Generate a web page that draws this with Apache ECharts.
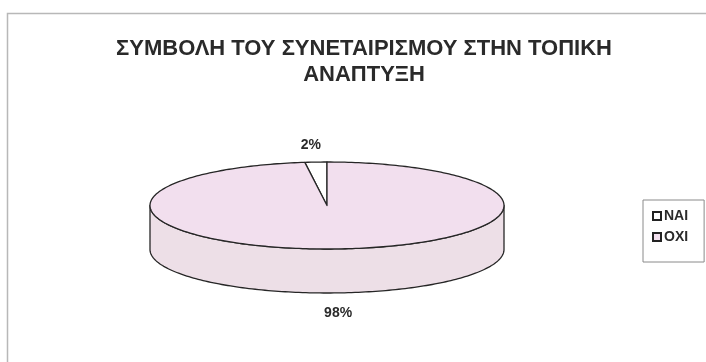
<!DOCTYPE html>
<html>
<head>
<meta charset="utf-8">
<script src="https://cdn.jsdelivr.net/npm/echarts@6/dist/echarts.min.js"></script>
<style>
  html, body { margin: 0; padding: 0; background: #fff; }
  #chart { width: 706px; height: 362px; }
</style>
</head>
<body>
<div id="chart"></div>
<script>
// Answers (percent of respondents)
const categories = ['ΝΑΙ', 'ΟΧΙ'];
const shares = [2, 98];
const topColors = ['#ffffff', '#f2dfee'];
const sideColors = ['#f4f4f4', '#eddfe7'];
const titleText = 'ΣΥΜΒΟΛΗ ΤΟΥ ΣΥΝΕΤΑΙΡΙΣΜΟΥ ΣΤΗΝ ΤΟΠΙΚΗ\nΑΝΑΠΤΥΞΗ';

const FONT = '"Liberation Sans", Arial, sans-serif';
// Tilted disc geometry (pixels)
const DISC = { cx: 327, cy: 205.5, rx: 177, ry: 43.5, depth: 44 };

const total = shares.reduce((a, b) => a + b, 0);
let run = 0;
// each slice: [start, end, value, total] in value units, counterclockwise from 12 o'clock
const sliceData = shares.map(v => { const s = run; run += v; return [s, run, v, total]; });

function pt(theta, dy) {
  return [DISC.cx + DISC.rx * Math.sin(theta),
          DISC.cy - DISC.ry * Math.cos(theta) + (dy || 0)];
}
function arc(a, b, dy) {
  const n = Math.max(2, Math.ceil(Math.abs(b - a) / 0.02));
  const out = [];
  for (let i = 0; i <= n; i++) out.push(pt(a + (b - a) * i / n, dy));
  return out;
}

function renderSlice(params, api) {
  const s = api.value(0), e = api.value(1), v = api.value(2), tot = api.value(3);
  const a = -s / tot * Math.PI * 2;
  const b = -e / tot * Math.PI * 2;
  const idx = params.seriesIndex;
  const stroke = '#262626';
  const children = [];
  // front wall: parts of the slice where the rim faces the viewer
  const lo = Math.min(a, b), hi = Math.max(a, b);
  for (let k = -2; k <= 1; k++) {
    const f0 = Math.PI / 2 + 2 * Math.PI * k, f1 = 3 * Math.PI / 2 + 2 * Math.PI * k;
    const p = Math.max(lo, f0), q = Math.min(hi, f1);
    if (q > p) {
      const upper = arc(p, q, 0);
      const lower = arc(q, p, DISC.depth);
      children.push({
        type: 'polygon',
        shape: { points: upper.concat(lower) },
        style: { fill: sideColors[idx], stroke: stroke, lineWidth: 1.3, lineJoin: 'round' }
      });
    }
  }
  // top face
  const top = [[DISC.cx, DISC.cy]].concat(arc(a, b, 0));
  children.push({
    type: 'polygon',
    shape: { points: top },
    style: { fill: topColors[idx], stroke: stroke, lineWidth: 1.3, lineJoin: 'round' }
  });
  // percentage label placed off the middle of the slice
  const mid = (a + b) / 2;
  const front = Math.cos(mid) < 0;
  const lp = pt(mid, front ? DISC.depth : 0);
  children.push({
    type: 'text',
    style: {
      text: Math.round(v / tot * 100) + '%',
      x: lp[0] - (front ? 0 : 5),
      y: lp[1] + (front ? 20 : -17),
      align: 'center', verticalAlign: 'middle',
      fontFamily: FONT, fontSize: 14, fontWeight: 'bold', fill: '#2a2a2a'
    }
  });
  return { type: 'group', children: children };
}

const chart = echarts.init(document.getElementById('chart'), null, { renderer: 'canvas' });
chart.setOption({
  backgroundColor: '#ffffff',
  animation: false,
  title: {
    text: titleText,
    left: 359, top: 31, textAlign: 'center',
    textStyle: { fontFamily: FONT, fontSize: 22, fontWeight: 'bold', color: '#2a2a2a', lineHeight: 26 }
  },
  legend: {
    orient: 'vertical',
    left: 643, top: 200,
    padding: [9, 16, 18, 9],
    itemGap: 7,
    itemWidth: 8, itemHeight: 8,
    icon: 'rect',
    borderColor: '#8a8a8a', borderWidth: 1,
    backgroundColor: '#fff',
    textStyle: { fontFamily: FONT, fontSize: 14, fontWeight: 'bold', color: '#2a2a2a', padding: [0, 0, 0, -2] },
    data: categories
  },
  graphic: [
    { type: 'polyline', shape: { points: [[7.5, 362], [7.5, 13.5], [706, 13.5]] },
      style: { stroke: '#b8b8b8', lineWidth: 1.5, fill: null } }
  ],
  series: categories.map((name, i) => ({
    type: 'custom',
    name: name,
    coordinateSystem: 'none',
    renderItem: renderSlice,
    itemStyle: { color: topColors[i], borderColor: '#222', borderWidth: 1.5 },
    data: [sliceData[i]]
  }))
});
</script>
</body>
</html>
